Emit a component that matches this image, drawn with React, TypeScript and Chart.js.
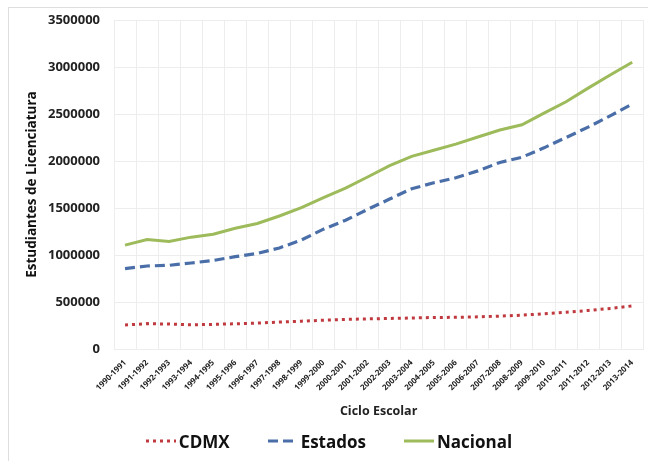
import React, { useEffect, useRef } from "react";
import { Chart, registerables } from "chart.js";

Chart.register(...registerables);

// Ciclos escolares 1990-1991 ... 2013-2014
const ciclos = [
  "1990-1991", "1991-1992", "1992-1993", "1993-1994", "1994-1995", "1995-1996",
  "1996-1997", "1997-1998", "1998-1999", "1999-2000", "2000-2001", "2001-2002",
  "2002-2003", "2003-2004", "2004-2005", "2005-2006", "2006-2007", "2007-2008",
  "2008-2009", "2009-2010", "2010-2011", "2011-2012", "2012-2013", "2013-2014",
];

// Matrícula de licenciatura por ciclo
const cdmx = [
  255000, 270000, 265000, 258000, 262000, 268000, 276000, 286000, 296000, 306000,
  315000, 320000, 325000, 330000, 335000, 337000, 342000, 350000, 360000, 375000,
  390000, 410000, 432000, 458000,
];
const estados = [
  855000, 883000, 890000, 915000, 942000, 982000, 1017000, 1075000, 1160000, 1275000,
  1370000, 1485000, 1595000, 1705000, 1768000, 1822000, 1895000, 1985000, 2040000, 2140000,
  2250000, 2360000, 2480000, 2605000,
];
const nacional = [
  1105000, 1165000, 1145000, 1190000, 1220000, 1285000, 1335000, 1415000, 1505000, 1610000,
  1712000, 1830000, 1950000, 2050000, 2115000, 2180000, 2255000, 2330000, 2385000, 2510000,
  2630000, 2775000, 2915000, 3050000,
];

const yTicksMax = 3500000;
const yTicksStep = 500000;

const FONT = "'Open Sans', 'Liberation Sans', sans-serif";
const GRID = "#ededed";

type Serie = { label: string; data: number[]; color: string; width: number; dash: number[] };

const series: Serie[] = [
  { label: "CDMX", data: cdmx, color: "#C0393F", width: 3, dash: [3, 4] },
  { label: "Estados", data: estados, color: "#4A6EA8", width: 3.2, dash: [10, 5] },
  { label: "Nacional", data: nacional, color: "#9DBB5A", width: 3, dash: [] },
];

function Legend() {
  return (
    <div
      style={{
        position: "absolute",
        left: 0,
        width: 648,
        top: 429,
        height: 24,
        display: "flex",
        justifyContent: "center",
        alignItems: "center",
        gap: 38,
        paddingLeft: 10,
        boxSizing: "border-box",
        fontFamily: FONT,
        fontWeight: 700,
        fontSize: 17,
        color: "#111",
      }}
    >
      {series.map((s) => (
        <div key={s.label} style={{ display: "flex", alignItems: "center", gap: 3 }}>
          <svg width={30} height={10} style={{ display: "block" }}>
            <line
              x1={0}
              y1={5}
              x2={30}
              y2={5}
              stroke={s.color}
              strokeWidth={s.width}
              strokeDasharray={s.dash.length ? s.dash.join(" ") : undefined}
            />
          </svg>
          <span>{s.label}</span>
        </div>
      ))}
    </div>
  );
}

export default function App() {
  const canvasRef = useRef<HTMLCanvasElement | null>(null);

  useEffect(() => {
    const canvas = canvasRef.current;
    if (!canvas) return;
    const chart = new Chart(canvas, {
      type: "line",
      data: {
        labels: ciclos,
        datasets: series.map((s) => ({
          label: s.label,
          data: s.data,
          borderColor: s.color,
          backgroundColor: s.color,
          borderWidth: s.width,
          borderDash: s.dash,
          pointRadius: 0,
          tension: 0,
        })),
      },
      options: {
        animation: false,
        responsive: false,
        maintainAspectRatio: false,
        layout: { padding: { top: 12, right: 0, bottom: 38, left: 0 } },
        plugins: {
          tooltip: { enabled: false },
          legend: { display: false },
        },
        scales: {
          x: {
            offset: true,
            grid: { offset: true, color: GRID, drawTicks: false },
            border: { color: GRID },
            ticks: {
              autoSkip: false,
              maxRotation: 45,
              minRotation: 45,
              padding: 9,
              color: "#222",
              font: { family: FONT, size: 8, weight: "bold" },
            },
            title: {
              display: true,
              text: "Ciclo Escolar",
              color: "#222",
              padding: { top: 0, bottom: 4 },
              font: { family: FONT, size: 12.5, weight: "bold" },
            },
            afterFit: (scale: any) => {
              scale.height = 74;
            },
          },
          y: {
            min: 0,
            max: yTicksMax,
            grid: { color: GRID, drawTicks: false },
            border: { display: false },
            ticks: {
              stepSize: yTicksStep,
              padding: 14,
              color: "#222",
              font: { family: FONT, size: 13, weight: "bold" },
              callback: (v: any) => String(v),
            },
            title: {
              display: true,
              text: "Estudiantes de Licenciatura",
              color: "#111",
              padding: { top: 15, bottom: 0 },
              font: { family: FONT, size: 13.5, weight: "bold" },
            },
            afterFit: (scale: any) => {
              scale.width = 105;
              scale.paddingTop = 0;
              scale.paddingBottom = 0;
            },
          },
        },
      },
    });
    return () => chart.destroy();
  }, []);

  return (
    <div
      style={{
        position: "fixed",
        left: 0,
        top: 0,
        width: 648,
        height: 461,
        background: "#fff",
        overflow: "hidden",
      }}
    >
      <div
        style={{
          position: "absolute",
          left: 8,
          top: 7,
          width: 640,
          height: 454,
          borderLeft: "1px solid #dedede",
          borderTop: "1px solid #dedede",
          boxSizing: "border-box",
        }}
      >
        <canvas ref={canvasRef} width={639} height={453} style={{ display: "block" }} />
      </div>
      <Legend />
    </div>
  );
}
